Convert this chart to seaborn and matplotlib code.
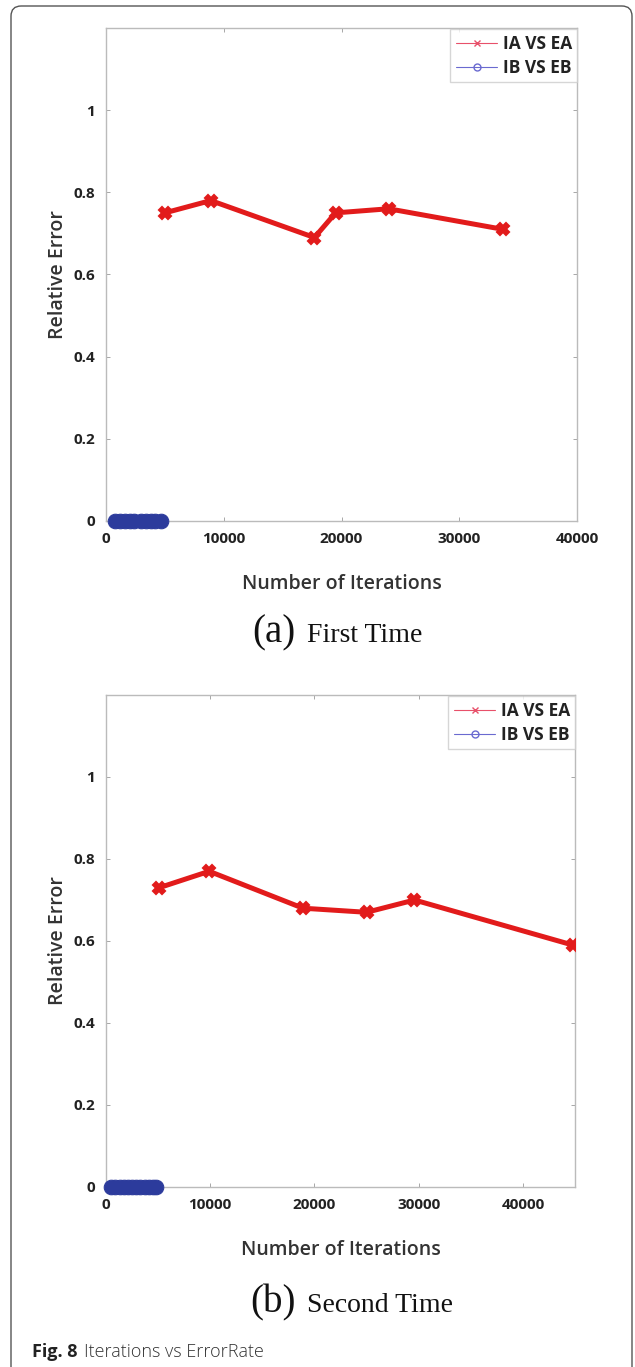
import matplotlib
matplotlib.use("Agg")
import matplotlib.pyplot as plt
from matplotlib.lines import Line2D
from matplotlib.patches import FancyBboxPatch
import seaborn as sns
import pandas as pd

# Run 1 ("First Time")
iters_a = [5000, 8900, 17700, 19500, 24000, 33700]
err_a = [0.75, 0.78, 0.69, 0.75, 0.76, 0.71]
iters_b_a = [800, 1200, 1600, 2000, 2400, 3000, 3400, 3800, 4200, 4700]
err_b_a = [0] * len(iters_b_a)

# Run 2 ("Second Time")
iters_2 = [5100, 9900, 18900, 25000, 29600, 44800]
err_2 = [0.73, 0.77, 0.68, 0.67, 0.70, 0.59]
iters_b_2 = [500, 900, 1300, 1700, 2100, 2500, 2900, 3300, 3700, 4100, 4500, 4800]
err_b_2 = [0] * len(iters_b_2)

series_names = ["IA VS EA", "IB VS EB"]
y_ticks = [0, 0.2, 0.4, 0.6, 0.8, 1]
y_tick_labels = ["0", "0.2", "0.4", "0.6", "0.8", "1"]
captions = [("(a)", "First Time"), ("(b)", "Second Time")]

RED = "#e21b1b"
BLUE = "#2c3b9c"
W, H = 635, 1367

sns.set_theme(style="white")
plt.rcParams["font.family"] = ["Open Sans", "DejaVu Sans"]

fig = plt.figure(figsize=(W / 100, H / 100), dpi=100)

# outer rounded frame (open at the bottom edge of the page)
frame = FancyBboxPatch((11 / W, -0.02), 621 / W, 1.02 - 6 / H,
                       boxstyle="round,pad=0,rounding_size=0.016",
                       transform=fig.transFigure, facecolor="none", edgecolor="#555555",
                       linewidth=1.0, mutation_aspect=W / H)
fig.patches.append(frame)

panels = [
    dict(rect=[106 / W, 1 - 521 / H, 471 / W, 493 / H], x=iters_a, y=err_a,
         xb=iters_b_a, yb=err_b_a, xlim=(0, 40000), cap_base=642),
    dict(rect=[106 / W, 1 - 1187 / H, 469 / W, 492 / H], x=iters_2, y=err_2,
         xb=iters_b_2, yb=err_b_2, xlim=(0, 45000), cap_base=1312),
]
x_ticks = [0, 10000, 20000, 30000, 40000]

for i, p in enumerate(panels):
    ax = fig.add_axes(p["rect"])
    df_a = pd.DataFrame({"iter": p["x"], "err": p["y"]})
    df_b = pd.DataFrame({"iter": p["xb"], "err": p["yb"]})
    sns.lineplot(data=df_a, x="iter", y="err", ax=ax, color=RED, linewidth=3.6,
                 marker="X", markersize=8, markeredgecolor=RED, markeredgewidth=1.5, zorder=3)
    sns.lineplot(data=df_b, x="iter", y="err", ax=ax, color=BLUE, linewidth=3.0,
                 marker="o", markersize=10.5, markeredgecolor=BLUE, zorder=4, clip_on=False)
    ax.set_xlim(*p["xlim"])
    ax.set_ylim(0, 1.2)
    ax.set_xticks(x_ticks)
    ax.set_xticklabels([str(t) for t in x_ticks])
    ax.set_yticks(y_ticks)
    ax.set_yticklabels(y_tick_labels)
    ax.tick_params(direction="in", length=3, width=0.6, color="#999999",
                   top=True, right=True, bottom=True, left=True,
                   labelsize=11, labelcolor="#222222", pad=8)
    for lab in ax.get_xticklabels() + ax.get_yticklabels():
        lab.set_fontweight("bold")
    for s in ax.spines.values():
        s.set_color("#bbbbbb")
        s.set_linewidth(1.0)
    ax.set_xlabel("Number of Iterations", fontsize=14, fontweight="semibold",
                  color="#333333", labelpad=20)
    ax.set_ylabel("Relative Error", fontsize=14, fontweight="semibold",
                  color="#333333", labelpad=4)

    handles = [
        Line2D([], [], color="#e8506a", lw=0.8, marker="x", markersize=5),
        Line2D([], [], color="#6a6ad0", lw=0.8, marker="o", markersize=5,
               markerfacecolor="none"),
    ]
    leg = ax.legend(handles, series_names, loc="upper right", bbox_to_anchor=(1.0, 0.997),
                    fontsize=12.5, frameon=True, fancybox=False, borderaxespad=0.0,
                    handlelength=2.4, handletextpad=0.3, borderpad=0.3,
                    labelspacing=0.35)
    leg.get_frame().set_edgecolor("#cccccc")
    leg.get_frame().set_linewidth(1.0)
    for t in leg.get_texts():
        t.set_color("#222222")
        t.set_fontweight("bold")

    # sub-caption below the panel
    y_cap = 1 - p["cap_base"] / H
    letter, words = captions[i]
    fig.text(296 / W, y_cap, letter, ha="right", va="baseline",
             fontsize=28, family="Liberation Serif", color="#111111")
    fig.text(307 / W, y_cap, words, ha="left", va="baseline",
             fontsize=20, family="Liberation Serif", color="#111111")

fig.text(32 / W, 1 - 1357 / H, "Fig. 8", ha="left", va="baseline", fontsize=13,
         fontweight="bold", color="#222222")
fig.text(84 / W, 1 - 1357 / H, "Iterations vs ErrorRate", ha="left", va="baseline",
         fontsize=13, fontweight="light", color="#333333")

fig.savefig("out.png", dpi=100)
